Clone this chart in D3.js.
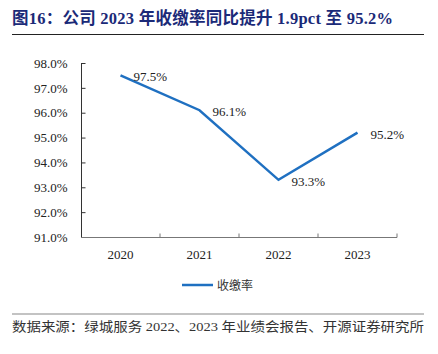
<!DOCTYPE html>
<html>
<head>
<meta charset="utf-8">
<script src="https://cdn.jsdelivr.net/npm/d3@7"></script>
<style>
body { margin: 0; background: #fff; }
</style>
</head>
<body>
<div id="chart"></div>
<script>
let years = ['2020', '2021', '2022', '2023']
let rates = [97.5, 96.1, 93.3, 95.2]
let yTicks = [91, 92, 93, 94, 95, 96, 97, 98]
let seriesName = '收缴率'
let titleText = '图16：公司 2023 年收缴率同比提升 1.9pct 至 95.2%'
let sourceText = '数据来源：绿城服务 2022、2023 年业绩会报告、开源证券研究所'

let width = 438
let height = 354
let serif = '"Liberation Serif", "Times New Roman", "Noto Sans CJK SC", serif'

const svg = d3.select('#chart')
	.append('svg')
	.attr('width', width)
	.attr('height', height)

// title
svg.append('text')
	.attr('x', 12)
	.attr('y', 24)
	.attr('fill', '#1b2a78')
	.attr('font-family', serif)
	.attr('font-weight', 'bold')
	.attr('font-size', 16.5)
	.attr('textLength', 381)
	.attr('lengthAdjust', 'spacing')
	.text(titleText)

svg.append('line')
	.attr('x1', 12).attr('x2', 424)
	.attr('y1', 34.5).attr('y2', 34.5)
	.attr('stroke', '#222')
	.attr('stroke-width', 1)

let xScale = d3.scaleBand()
	.domain(years)
	.range([81, 397])

let yScale = d3.scaleLinear()
	.domain([91, 98])
	.range([237, 63])

// y axis
let yAxis = svg.append('g')
	.attr('transform', 'translate(81.5,0)')
	.call(d3.axisLeft(yScale).tickValues(yTicks).tickSize(4).tickPadding(10)
		.tickFormat(d => d.toFixed(1) + '%'))
yAxis.select('.domain').attr('stroke', '#333').attr('d', 'M0,63V237')
yAxis.selectAll('.tick line').attr('stroke', '#333').attr('x2', 4)
yAxis.selectAll('text')
	.attr('font-family', serif)
	.attr('font-size', 13)
	.attr('fill', '#222')
	.attr('x', -14)

// x axis
let xAxis = svg.append('g')
	.attr('transform', 'translate(0,237.5)')
	.call(d3.axisBottom(xScale).tickSize(0).tickPadding(12))
xAxis.select('.domain').attr('stroke', '#777').attr('d', 'M81,0H397')
xAxis.selectAll('text')
	.attr('font-family', serif)
	.attr('font-size', 13)
	.attr('fill', '#222')

// ticks between categories
xAxis.selectAll('.sep')
	.data(years)
	.enter()
	.append('line')
	.attr('x1', d => xScale(d) + xScale.bandwidth())
	.attr('x2', d => xScale(d) + xScale.bandwidth())
	.attr('y1', 0)
	.attr('y2', -4)
	.attr('stroke', '#777')

let line = d3.line()
	.x((d, i) => xScale(years[i]) + xScale.bandwidth() / 2)
	.y(d => yScale(d))

svg.append('path')
	.datum(rates)
	.attr('d', line)
	.attr('fill', 'none')
	.attr('stroke', '#1f70c1')
	.attr('stroke-width', 2.5)

svg.selectAll('.lbl')
	.data(rates)
	.enter()
	.append('text')
	.attr('x', (d, i) => xScale(years[i]) + xScale.bandwidth() / 2 + 13)
	.attr('y', d => yScale(d) + 6)
	.attr('font-family', serif)
	.attr('font-size', 13)
	.attr('fill', '#222')
	.text(d => d.toFixed(1) + '%')

// legend
svg.append('line')
	.attr('x1', 182).attr('x2', 213)
	.attr('y1', 285).attr('y2', 285)
	.attr('stroke', '#1f70c1')
	.attr('stroke-width', 2.5)

svg.append('text')
	.attr('x', 217)
	.attr('y', 289.5)
	.attr('font-family', '"Noto Sans CJK SC", sans-serif')
	.attr('font-size', 12)
	.attr('fill', '#333')
	.text(seriesName)

// source
svg.append('line')
	.attr('x1', 12).attr('x2', 424)
	.attr('y1', 314).attr('y2', 314)
	.attr('stroke', '#888')
	.attr('stroke-width', 1.2)

svg.append('text')
	.attr('x', 12)
	.attr('y', 331)
	.attr('font-family', serif)
	.attr('font-size', 13)
	.attr('fill', '#333')
	.attr('textLength', 412)
	.attr('lengthAdjust', 'spacingAndGlyphs')
	.text(sourceText)
</script>
</body>
</html>
